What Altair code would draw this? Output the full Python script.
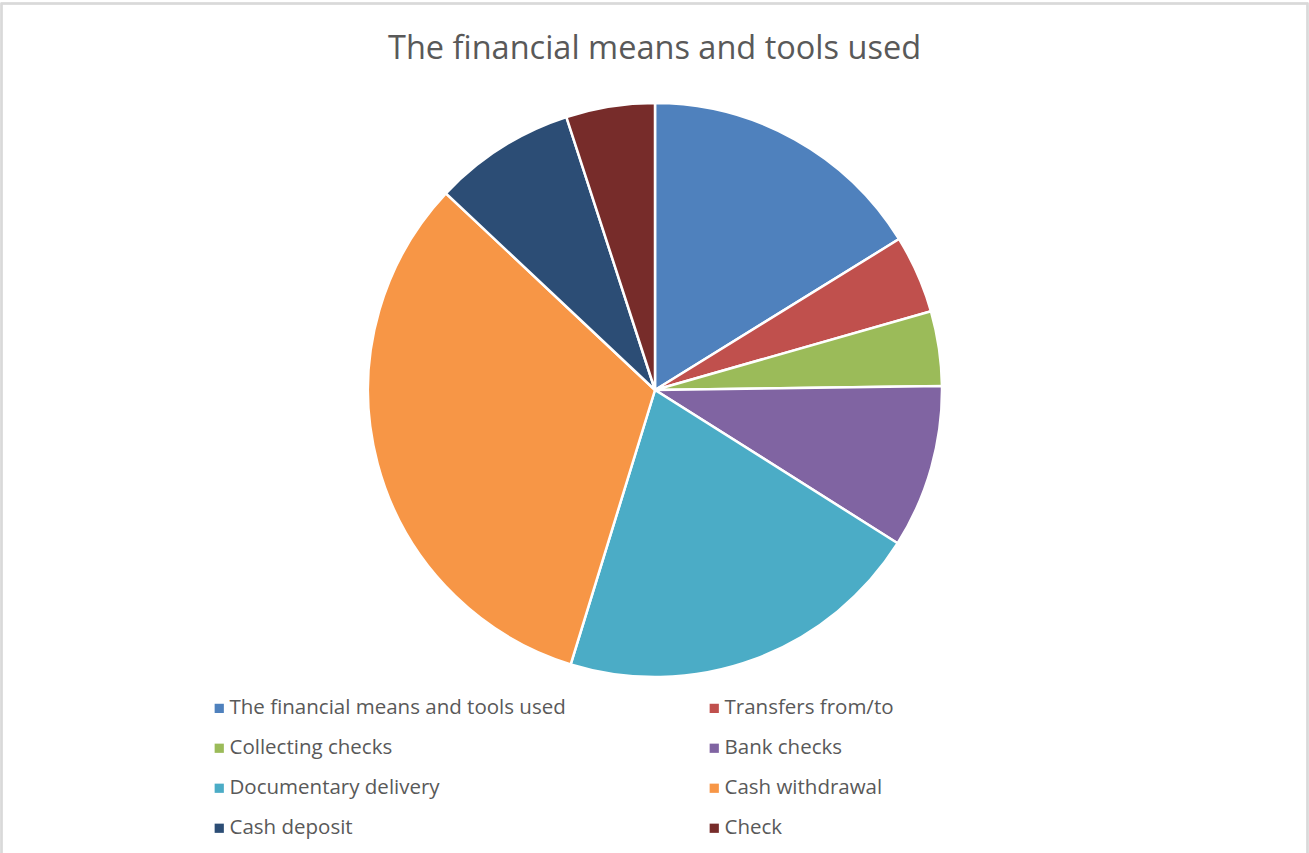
import altair as alt
import pandas as pd

categories = [
    "The financial means and tools used",
    "Transfers from/to",
    "Collecting checks",
    "Bank checks",
    "Documentary delivery",
    "Cash withdrawal",
    "Cash deposit",
    "Check",
]
values = [16.2, 4.4, 4.2, 9.2, 20.8, 32.3, 8.0, 5.0]
colors = ["#4F81BD", "#C0504D", "#9BBB59", "#8064A2", "#4BACC6", "#F79646", "#2C4D75", "#772C2A"]

df = pd.DataFrame({"category": categories, "value": values, "order": list(range(len(categories)))})

W, H = 1309, 853

pie = alt.Chart(df).mark_arc(outerRadius=287, stroke="white", strokeWidth=2.5).encode(
    theta=alt.Theta("value:Q", stack=True),
    order=alt.Order("order:Q"),
    color=alt.Color(
        "category:N",
        scale=alt.Scale(domain=categories, range=colors),
        sort=categories,
        legend=alt.Legend(
            title=None,
            orient="none",
            direction="horizontal",
            legendX=209,
            legendY=698,
            columns=2,
            columnPadding=138,
            rowPadding=19,
            symbolType="square",
            symbolSize=85,
            symbolStrokeWidth=0,
            labelFont="Open Sans",
            labelFontSize=20.5,
            labelColor="#595959",
            labelOffset=0,
            labelLimit=600,
        ),
    ),
    x=alt.value(655),
    y=alt.value(390),
)

border = alt.Chart(df).mark_rect(fill=None, stroke="#d9d9d9", strokeWidth=1.5).encode(
    x=alt.value(1.5), x2=alt.value(1307.5), y=alt.value(3.5), y2=alt.value(870)
)

chart = alt.layer(border, pie).properties(
    width=W,
    height=H,
    padding=0,
    autosize=alt.AutoSizeParams(type="none"),
    title=alt.TitleParams(
        "The financial means and tools used",
        font="Open Sans",
        fontSize=32.5,
        fontWeight="normal",
        color="#595959",
        anchor="middle",
        dy=69,
    ),
    background="white",
).configure_view(stroke=None)

chart.save("out.html", embed_options={"renderer": "svg", "actions": False})
